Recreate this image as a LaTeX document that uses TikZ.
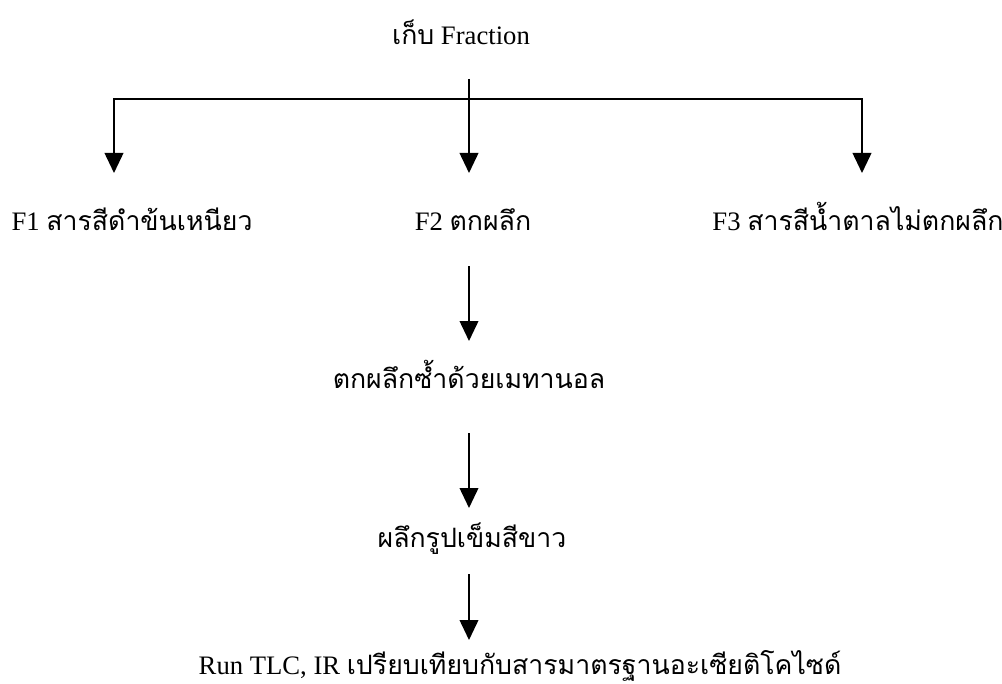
\documentclass[tikz,border=0pt]{standalone}
\usepackage{fontspec}
\setmainfont{Liberation Serif}
\newfontfamily\thaifont[Script=Thai]{Loma}
\newcommand{\thx}[1]{{\thaifont #1}}
\usetikzlibrary{arrows.meta}
\begin{document}
\begin{tikzpicture}[x=0.75pt,y=-0.75pt,
  lbl/.style={anchor=base,inner sep=0pt,font=\fontsize{20}{24}\selectfont},
  conn/.style={line width=1.3pt},
  arr/.style={line width=1.3pt,-{Triangle[length=15pt,width=14pt]}}]
\useasboundingbox (0,0) rectangle (1002,684);
% nodes
\node[lbl] (top) at (461,45) {\thx{เก็บ} Fraction};
\node[lbl] (f1) at (132,231) {F1 \thx{สารสีดำข้นเหนียว}};
\node[lbl] (f2) at (473,231) {F2 \thx{ตกผลึก}};
\node[lbl] (f3) at (858,231) {F3 \thx{สารสีน้ำตาลไม่ตกผลึก}};
\node[lbl] (m1) at (469,388) {\thx{ตกผลึกซ้ำด้วยเมทานอล}};
\node[lbl] (m2) at (472,547) {\thx{ผลึกรูปเข็มสีขาว}};
\node[lbl] (m3) at (520,674) {Run TLC, IR \thx{เปรียบเทียบกับสารมาตรฐานอะเซียติโคไซด์}};
% connector points
\coordinate (t0) at (469,79);
\coordinate (hub) at (469,99);
\coordinate (e1) at (114,173);
\coordinate (e2) at (469,173);
\coordinate (e3) at (862,173);
\coordinate (s4) at (469,266);
\coordinate (e4) at (469,341);
\coordinate (s5) at (469,433);
\coordinate (e5) at (469,508);
\coordinate (s6) at (469,574);
\coordinate (e6) at (469,640);
% connectors
\draw[conn] (t0) -- (hub);
\draw[arr] (hub) -| (e1);
\draw[arr] (hub) -- (e2);
\draw[arr] (hub) -| (e3);
\draw[arr] (s4) -- (e4);
\draw[arr] (s5) -- (e5);
\draw[arr] (s6) -- (e6);
\end{tikzpicture}
\end{document}
